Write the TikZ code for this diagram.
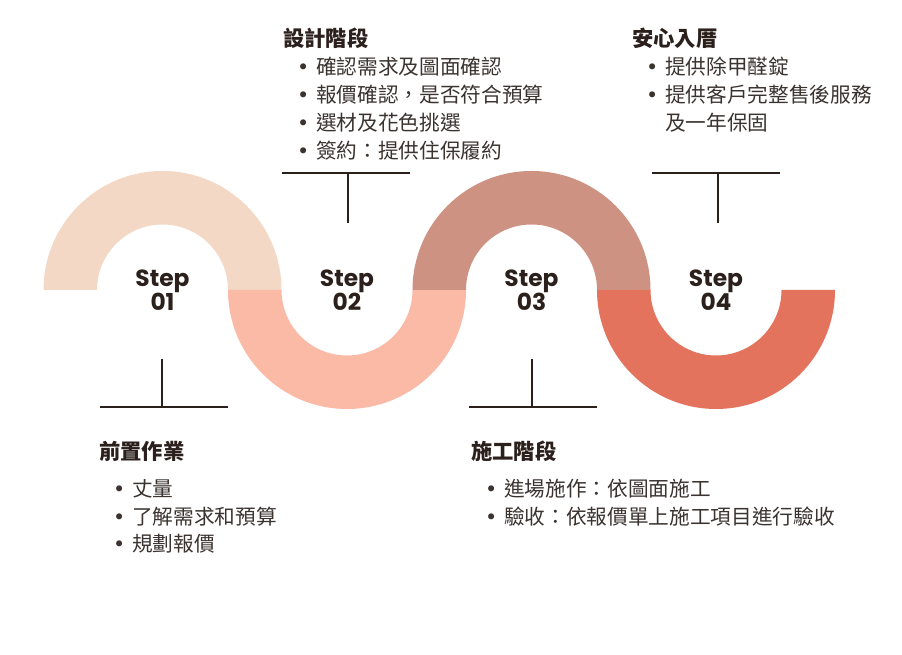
\documentclass[tikz,border=0pt]{standalone}
\usepackage{fontspec}
\setmainfont{Noto Sans CJK TC}
\newfontfamily\stepfont{Poppins}
\newfontfamily\dotfont{DejaVu Sans}
\usepackage{tikz}
\definecolor{customPeach}{HTML}{F3D8C5}
\definecolor{customSalmon}{HTML}{FABAA6}
\definecolor{customRose}{HTML}{CE9283}
\definecolor{customCoral}{HTML}{E4735D}
\definecolor{customDark}{HTML}{2B201B}
\definecolor{customText}{HTML}{3B3330}
\newcommand{\itemdot}{\makebox[19.5pt][c]{\dotfont •}}

\begin{document}
\begin{tikzpicture} [
    x=0.75pt, y=0.75pt,
    stepLabel/.style={align=center, inner sep=0pt, text=customDark, font=\stepfont\bfseries\fontsize{17.5}{18}\selectfont},
    title/.style={anchor=west, inner sep=0pt, text=customDark, font=\bfseries\fontsize{16}{19}\selectfont},
    item/.style={anchor=west, inner sep=0pt, text=customText, font=\fontsize{15.5}{19}\selectfont},
    connector/.style={line width=1.5pt, draw=customDark}
]
    \fill[white] (0, 0) rectangle (902, 655);
    \useasboundingbox (0, 0) rectangle (902, 655);

    % 1
    \fill[customPeach] (43.5, 365) arc[start angle=180, end angle=0, radius=119] -- (228, 365) arc[start angle=0, end angle=180, radius=65.5] -- cycle;
    \node[stepLabel] (step1) at (162.5, 365) {Step\\01};

    \coordinate (barOneL) at (100, 248);
    \coordinate (barOneR) at (228, 248);
    \coordinate (barOneM) at (162, 248);
    \coordinate (barOneT) at (162, 296);
    \draw[connector] (barOneL) -- (barOneR);
    \draw[connector] (barOneM) -- (barOneT);

    \node[title] (prepTitle) at (99, 204) {前置作業};
    \node[item] (prepA) at (106, 166) {\itemdot 丈量};
    \node[item] (prepB) at (106, 138.5) {\itemdot 了解需求和預算};
    \node[item] (prepC) at (106, 111) {\itemdot 規劃報價};

    % 2
    \fill[customSalmon] (228, 365) arc[start angle=180, end angle=360, radius=119] -- (412.5, 365) arc[start angle=0, end angle=-180, radius=65.5] -- cycle;
    \node[stepLabel] (step2) at (347, 365) {Step\\02};

    \coordinate (barTwoL) at (282, 482);
    \coordinate (barTwoR) at (410, 482);
    \coordinate (barTwoM) at (348, 482);
    \coordinate (barTwoB) at (348, 432);
    \draw[connector] (barTwoL) -- (barTwoR);
    \draw[connector] (barTwoM) -- (barTwoB);

    \node[title] (designTitle) at (283, 617) {設計階段};
    \node[item] (designA) at (290, 588) {\itemdot 確認需求及圖面確認};
    \node[item] (designB) at (290, 560) {\itemdot 報價確認，是否符合預算};
    \node[item] (designC) at (290, 532) {\itemdot 選材及花色挑選};
    \node[item] (designD) at (290, 504) {\itemdot 簽約：提供住保履約};

    % 3
    \fill[customRose] (412.5, 365) arc[start angle=180, end angle=0, radius=119] -- (597, 365) arc[start angle=0, end angle=180, radius=65.5] -- cycle;
    \node[stepLabel] (step3) at (531.5, 365) {Step\\03};

    \coordinate (barThreeL) at (469, 248);
    \coordinate (barThreeR) at (597, 248);
    \coordinate (barThreeM) at (532, 248);
    \coordinate (barThreeT) at (532, 296);
    \draw[connector] (barThreeL) -- (barThreeR);
    \draw[connector] (barThreeM) -- (barThreeT);

    \node[title] (buildTitle) at (471, 204) {施工階段};
    \node[item] (buildA) at (478, 166) {\itemdot 進場施作：依圖面施工};
    \node[item] (buildB) at (478, 138.5) {\itemdot 驗收：依報價單上施工項目進行驗收};

    % 4
    \fill[customCoral] (597, 365) arc[start angle=180, end angle=360, radius=119] -- (781.5, 365) arc[start angle=0, end angle=-180, radius=65.5] -- cycle;
    \node[stepLabel] (step4) at (716, 365) {Step\\04};

    \coordinate (barFourL) at (652, 482);
    \coordinate (barFourR) at (780, 482);
    \coordinate (barFourM) at (718, 482);
    \coordinate (barFourB) at (718, 432);
    \draw[connector] (barFourL) -- (barFourR);
    \draw[connector] (barFourM) -- (barFourB);

    \node[title] (homeTitle) at (632, 617) {安心入厝};
    \node[item] (homeA) at (639, 588) {\itemdot 提供除甲醛錠};
    \node[item] (homeB) at (639, 560) {\itemdot 提供客戶完整售後服務};
    \node[item] (homeC) at (639, 532) {\makebox[19.5pt]{}及一年保固};

\end{tikzpicture}
\end{document}
